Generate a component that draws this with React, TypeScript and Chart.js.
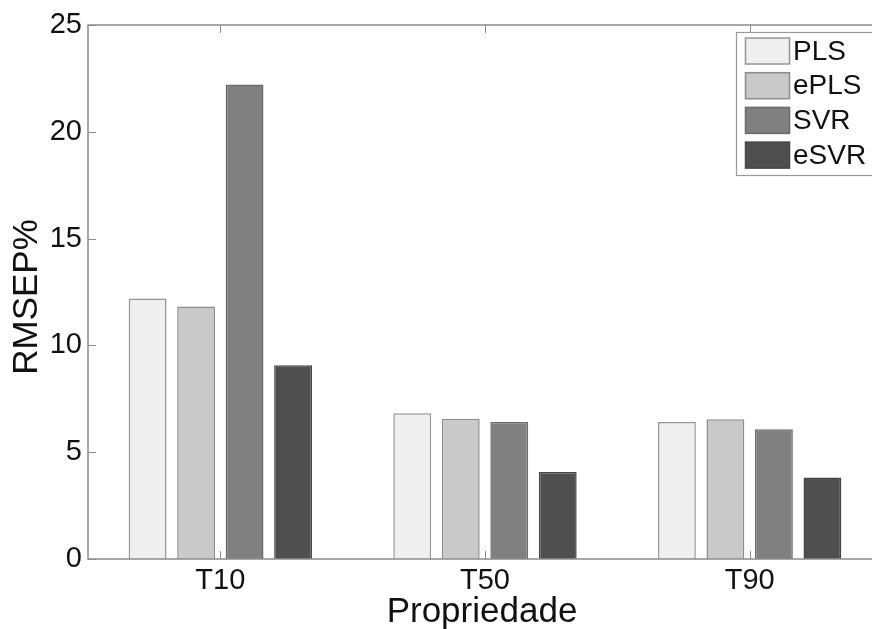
import React, { useEffect, useRef } from "react";
import { Chart, registerables } from "chart.js";

Chart.register(...registerables);

const categories = ["T10", "T50", "T90"];
const seriesNames = ["PLS", "ePLS", "SVR", "eSVR"];
const plsValues = [12.2, 6.82, 6.41];
const eplsValues = [11.82, 6.57, 6.54];
const svrValues = [22.22, 6.41, 6.07];
const esvrValues = [9.07, 4.07, 3.82];
const yTicks = [0, 5, 10, 15, 20, 25];
const fillColors = ["#efefef", "#c9c9c9", "#808080", "#4f4f4f"];
const edgeColors = ["#959595", "#8c8c8c", "#6a6a6a", "#474747"];

const FONT = "'Liberation Sans', Arial, sans-serif";
const FRAME = "#8c8c8c";

const framePlugin = {
  id: "matlabFrame",
  afterDraw(chart: any) {
    const { ctx, chartArea: a, scales } = chart;
    ctx.save();
    ctx.strokeStyle = FRAME;
    ctx.lineWidth = 1.5;
    ctx.beginPath();
    ctx.moveTo(a.right, a.top);
    ctx.lineTo(a.left, a.top);
    ctx.lineTo(a.left, a.bottom);
    ctx.lineTo(a.right, a.bottom);
    ctx.stroke();

    ctx.lineWidth = 1;
    ctx.beginPath();
    yTicks.forEach((v) => {
      const y = Math.round(scales.y.getPixelForValue(v)) + 0.5;
      ctx.moveTo(a.left, y);
      ctx.lineTo(a.left + 8, y);
      ctx.moveTo(a.right, y);
      ctx.lineTo(a.right - 8, y);
    });
    categories.forEach((_, i) => {
      const x = Math.round(scales.x.getPixelForValue(i)) + 0.5;
      ctx.moveTo(x, a.bottom);
      ctx.lineTo(x, a.bottom - 8);
      ctx.moveTo(x, a.top);
      ctx.lineTo(x, a.top + 8);
    });
    ctx.stroke();

    // axis titles
    ctx.fillStyle = "#111";
    ctx.font = `35px ${FONT}`;
    ctx.textAlign = "center";
    ctx.textBaseline = "alphabetic";
    ctx.fillText("Propriedade", (a.left + a.right) / 2 - 3, 622);
    ctx.save();
    ctx.translate(37, (a.top + a.bottom) / 2 + 5);
    ctx.rotate(-Math.PI / 2);
    ctx.fillText("RMSEP%", 0, 0);
    ctx.restore();

    // legend
    const lx = 736.5;
    const ly = 32.5;
    const lw = 160;
    const lh = 143;
    ctx.fillStyle = "#ffffff";
    ctx.fillRect(lx, ly, lw, lh);
    ctx.strokeStyle = "#999999";
    ctx.lineWidth = 1.2;
    ctx.strokeRect(lx, ly, lw, lh);
    ctx.font = `28px ${FONT}`;
    ctx.textAlign = "left";
    ctx.textBaseline = "middle";
    chart.data.datasets.forEach((ds: any, i: number) => {
      const cy = 51 + i * 34.7;
      ctx.fillStyle = ds.backgroundColor;
      ctx.fillRect(745.5, cy - 13, 44, 26);
      ctx.strokeStyle = ds.borderColor;
      ctx.lineWidth = 1.5;
      ctx.strokeRect(745.5, cy - 13, 44, 26);
      ctx.fillStyle = "#111";
      ctx.fillText(ds.label, 793, cy + 1);
    });
    ctx.restore();
  },
};

export default function App() {
  const ref = useRef<HTMLCanvasElement | null>(null);
  useEffect(() => {
    if (!ref.current) return;
    const seriesValues = [plsValues, eplsValues, svrValues, esvrValues];
    const chart = new Chart(ref.current, {
      type: "bar",
      data: {
        labels: categories,
        datasets: seriesNames.map((name, i) => ({
          label: name,
          data: seriesValues[i],
          backgroundColor: fillColors[i],
          borderColor: edgeColors[i],
          borderWidth: 1.5,
          categoryPercentage: 0.733,
          barPercentage: 0.78,
        })),
      },
      options: {
        responsive: false,
        animation: false,
        layout: { padding: { top: 25, left: 0, right: 0, bottom: 0 } },
        plugins: { legend: { display: false }, tooltip: { enabled: false } },
        scales: {
          x: {
            type: "category",
            offset: true,
            grid: { display: false, drawTicks: false },
            border: { display: false },
            ticks: {
              color: "#111",
              font: { family: FONT, size: 29 },
              padding: 5,
              maxRotation: 0,
            },
            afterFit: (s: any) => {
              s.height = 70;
            },
          },
          y: {
            type: "linear",
            min: 0,
            max: 25,
            grid: { display: false, drawTicks: false },
            border: { display: false },
            ticks: {
              color: "#111",
              font: { family: FONT, size: 29 },
              padding: 6,
              stepSize: 5,
            },
            afterBuildTicks: (s: any) => {
              s.ticks = yTicks.map((v) => ({ value: v }));
            },
            afterFit: (s: any) => {
              s.width = 88;
            },
          },
        },
      },
      plugins: [framePlugin],
    });
    return () => chart.destroy();
  }, []);
  return (
    <div
      style={{
        position: "fixed",
        left: 0,
        top: 0,
        width: 872,
        height: 629,
        overflow: "hidden",
        background: "#fff",
      }}
    >
      <canvas ref={ref} width={882} height={629} style={{ display: "block" }} />
    </div>
  );
}
